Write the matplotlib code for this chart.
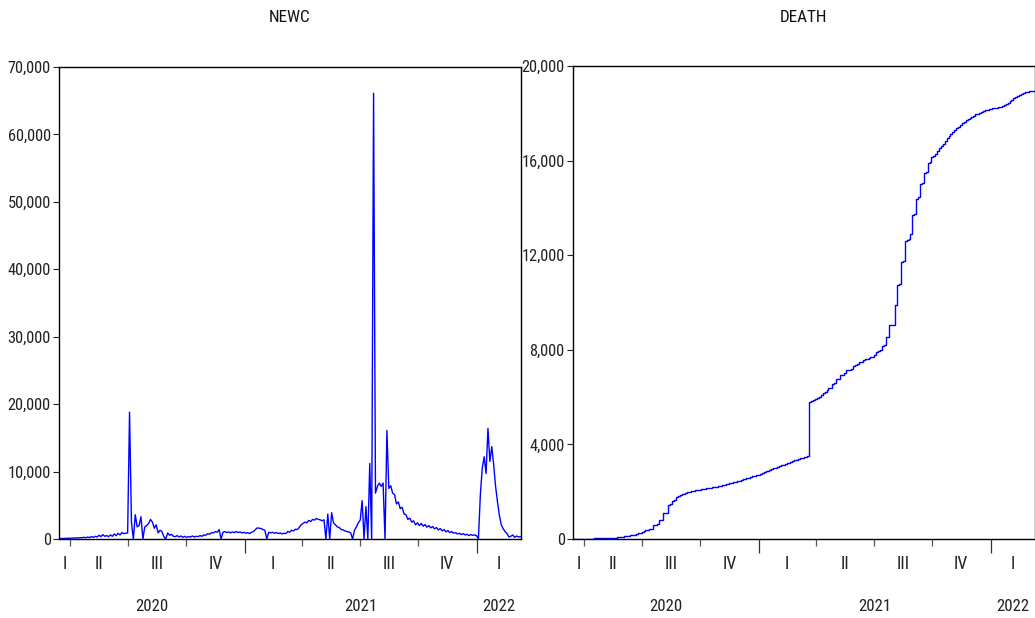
import matplotlib
matplotlib.use("Agg")
import matplotlib.pyplot as plt
import matplotlib.dates as mdates
from matplotlib import font_manager
import pandas as pd

# muestras cada 3 dias desde el 15-mar-2020
inicio = "2020-03-15"
paso = "3D"

newc = [
    50, 80, 60, 100, 80, 120, 100, 150, 120, 180,
    150, 200, 180, 250, 200, 280, 220, 350, 250, 400,
    300, 550, 350, 650, 400, 500, 350, 600, 400, 750,
    500, 850, 600, 950, 800, 850, 900, 18800, 2500, 0,
    3600, 1800, 2000, 3300, 0, 1800, 2000, 2300, 2900, 2500,
    1600, 2100, 900, 1300, 1100, 350, 0, 900, 550, 700,
    400, 350, 500, 300, 450, 250, 400, 250, 350, 300,
    450, 300, 400, 350, 500, 400, 600, 550, 800, 700,
    950, 900, 1100, 1000, 1400, 0, 1000, 1100, 950, 1050,
    900, 1050, 950, 1100, 950, 1050, 900, 1000, 850, 950,
    800, 1000, 1100, 1400, 1650, 1600, 1550, 1400, 1300, 0,
    1000, 900, 1000, 850, 950, 800, 900, 750, 850, 800,
    1100, 1000, 1300, 1200, 1450, 1400, 1700, 2100, 2300, 2500,
    2400, 2750, 2600, 2900, 2800, 3050, 2900, 2850, 2700, 2850,
    0, 3700, 0, 3900, 2400, 2100, 1800, 1700, 1400, 1350,
    1200, 1100, 1050, 900, 0, 1300, 1800, 2400, 2800, 5700,
    0, 4800, 0, 11200, 0, 66100, 6800, 7800, 8300, 7800,
    8300, 0, 16100, 7500, 7900, 6800, 6600, 5200, 5500, 4500,
    4700, 3700, 3600, 2900, 3100, 2500, 2700, 2100, 2400, 2000,
    2300, 1900, 2150, 1750, 2000, 1650, 1850, 1500, 1700, 1350,
    1550, 1200, 1400, 1050, 1250, 950, 1100, 850, 950, 750,
    850, 650, 800, 600, 700, 500, 650, 550, 600, 500,
    0, 6500, 10500, 12200, 9700, 16400, 11500, 13700, 11000, 7800,
    5500, 3500, 2100, 1500, 1100, 800, 300, 400, 600, 250,
    450, 300, 350,
]

death = [
    0, 2, 4, 6, 8, 10, 12, 14, 16, 18,
    20, 22, 25, 28, 31, 34, 37, 40, 44, 48,
    52, 56, 60, 65, 70, 80, 95, 110, 125, 140,
    155, 170, 190, 215, 240, 270, 300, 330, 370, 400,
    420, 420, 590, 600, 620, 800, 810, 1090, 1100, 1120,
    1440, 1460, 1620, 1640, 1790, 1800, 1850, 1890, 1920, 1950,
    1970, 1990, 2010, 2040, 2060, 2075, 2090, 2100, 2115, 2130,
    2140, 2155, 2170, 2185, 2200, 2215, 2230, 2245, 2265, 2290,
    2310, 2330, 2350, 2380, 2400, 2420, 2445, 2470, 2495, 2520,
    2545, 2570, 2595, 2620, 2645, 2670, 2700, 2725, 2750, 2790,
    2820, 2860, 2890, 2920, 2960, 2990, 3020, 3050, 3080, 3110,
    3140, 3170, 3200, 3230, 3260, 3290, 3320, 3350, 3380, 3410,
    3430, 3450, 3480, 3510, 5800, 5830, 5870, 5900, 5950, 6000,
    6080, 6160, 6200, 6280, 6370, 6400, 6550, 6600, 6750, 6780,
    6930, 6950, 7000, 7150, 7150, 7160, 7200, 7300, 7360, 7400,
    7480, 7500, 7570, 7600, 7620, 7650, 7700, 7710, 7800, 7920,
    7950, 8000, 8160, 8200, 8530, 8550, 9050, 9050, 9050, 9890,
    10740, 10800, 11700, 11750, 12610, 12650, 12700, 12900, 13700, 13750,
    14380, 14450, 15000, 15050, 15460, 15500, 15880, 15950, 16140, 16200,
    16300, 16420, 16520, 16620, 16720, 16840, 16950, 17040, 17120, 17210,
    17290, 17370, 17440, 17510, 17570, 17640, 17700, 17760, 17800, 17850,
    17900, 17950, 17990, 18030, 18060, 18090, 18120, 18150, 18170, 18190,
    18210, 18230, 18240, 18250, 18260, 18290, 18330, 18380, 18440, 18510,
    18580, 18640, 18700, 18750, 18790, 18830, 18860, 18890, 18910, 18930,
    18940, 18950, 18960,
]

fecha_fin = "2022-03-12"
cuartos = ["I", "II", "III", "IV"]


def buscar_fuente_estrecha():
    """Busca una fuente condensada/estrecha instalada (tipo Arial Narrow)."""
    for clave in ['LiberationSansNarrow-Regular', 'RobotoCondensed-Regular',
                  'DejaVuSansCondensed.', 'OpenSans_Condensed-Regular']:
        for f in font_manager.fontManager.ttflist:
            if clave in f.fname.replace(' ', ''):
                return font_manager.FontProperties(fname=f.fname)
    for f in font_manager.fontManager.ttflist:
        n = f.fname.lower()
        if ('narrow' in n or 'condensed' in n) and not any(
                k in n for k in ['bold', 'italic', 'oblique', 'light', 'semi']):
            return font_manager.FontProperties(fname=f.fname)
    return None


fp = buscar_fuente_estrecha()
if fp is None:
    tam = 9.5
    fp = font_manager.FontProperties(family=['Liberation Sans', 'DejaVu Sans'])
else:
    tam = 11.8

W, H = 1035, 618
fig = plt.figure(figsize=(W / 100, H / 100), dpi=100)

azul = '#0000ff'
x0 = pd.Timestamp(inicio)
x1 = pd.Timestamp(fecha_fin)


def panel(rect, fechas, valores, titulo, ymax, ystep, pasos=False):
    ax = fig.add_axes(rect)
    ax.plot(fechas, valores, color=azul, linewidth=1.0,
            drawstyle='steps-post' if pasos else 'default')
    ax.set_xlim(x0, x1)
    ax.set_ylim(0, ymax)
    ax.set_yticks(range(0, ymax + 1, ystep))
    ax.yaxis.set_major_formatter(plt.FuncFormatter(lambda v, p: format(int(v), ',')))
    ax.tick_params(axis='y', direction='out', length=4, width=0.8, pad=2,
                   colors='#222222')
    for lab in ax.get_yticklabels():
        lab.set_fontproperties(fp)
        lab.set_fontsize(tam)

    # ticks de año (largos) y de trimestre (cortos)
    ax.xaxis.set_major_locator(mdates.YearLocator())
    ax.xaxis.set_minor_locator(mdates.MonthLocator(bymonth=[1, 4, 7, 10]))
    ax.tick_params(axis='x', which='major', length=10, width=0.9, color='#333333')
    ax.tick_params(axis='x', which='minor', length=5, width=0.9, color='#555555')
    ax.tick_params(axis='x', which='both', labelbottom=False)
    for s in ax.spines.values():
        s.set_linewidth(1.0)
        s.set_color('black')

    tr = ax.get_xaxis_transform()
    # etiquetas de trimestre
    for anio in [2020, 2021, 2022]:
        for q in range(4):
            a = pd.Timestamp(anio, 3 * q + 1, 1)
            b = a + pd.DateOffset(months=3)
            a, b = max(a, x0), min(b, x1)
            if a >= b:
                continue
            m = a + (b - a) / 2
            ax.text(m, -0.052, cuartos[q], transform=tr, ha='center', va='center',
                    fontproperties=fp, fontsize=tam + 1, color='#222222')
        a, b = max(pd.Timestamp(anio, 1, 1), x0), min(pd.Timestamp(anio + 1, 1, 1), x1)
        if a < b:
            ax.text(a + (b - a) / 2, -0.142, str(anio), transform=tr, ha='center',
                    va='center', fontproperties=fp, fontsize=tam + 0.3, color='#222222')

    fig.text(rect[0] + rect[2] / 2, 1 - 17 / H, titulo, ha='center', va='center',
             fontproperties=fp, fontsize=tam + 0.5, color='#111111')
    return ax


f_newc = pd.date_range(inicio, periods=len(newc), freq=paso)
f_death = pd.date_range(inicio, periods=len(death), freq=paso)

panel([59 / W, (H - 539) / H, 462 / W, 472 / H], f_newc, newc, "NEWC", 70000, 10000)
panel([573 / W, (H - 539) / H, 462 / W, 473 / H], f_death, death, "DEATH", 20000, 4000,
      pasos=True)

fig.savefig("out.png", dpi=100)
